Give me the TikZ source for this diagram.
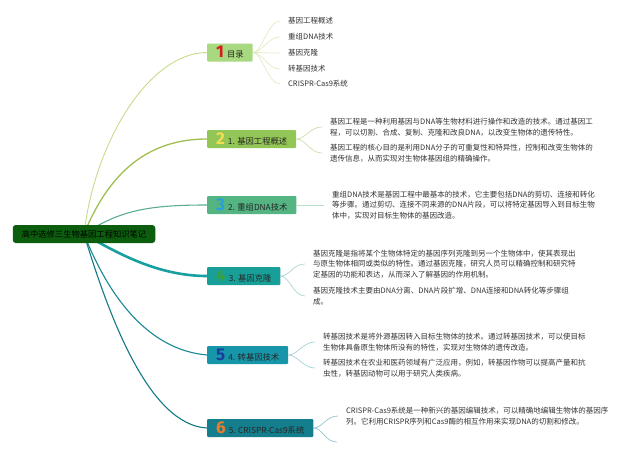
\documentclass[tikz,border=0pt]{standalone}
\usepackage{fontspec}
\setmainfont{Noto Sans CJK SC}
\newfontfamily\numfont{Fira Sans}
\usetikzlibrary{backgrounds}

\definecolor{rootgreen}{RGB}{12,94,14}
\definecolor{box1}{RGB}{168,216,128}
\definecolor{box2}{RGB}{146,198,86}
\definecolor{box3}{RGB}{84,180,130}
\definecolor{box4}{RGB}{24,160,152}
\definecolor{box5}{RGB}{22,150,168}
\definecolor{box6}{RGB}{20,126,140}
\definecolor{line1}{RGB}{196,220,140}
\definecolor{line2}{RGB}{160,190,80}
\definecolor{line3}{RGB}{90,175,140}
\definecolor{line4}{RGB}{24,160,160}
\definecolor{line5}{RGB}{24,135,150}
\definecolor{line6}{RGB}{20,120,135}
\definecolor{twig1}{RGB}{225,235,195}
\definecolor{twig2}{RGB}{205,225,170}
\definecolor{twig3}{RGB}{180,225,200}
\definecolor{twig4}{RGB}{170,215,210}
\definecolor{twig5}{RGB}{165,210,215}
\definecolor{twig6}{RGB}{150,195,205}
\definecolor{num1}{RGB}{210,30,30}
\definecolor{num2}{RGB}{245,220,80}
\definecolor{num3}{RGB}{40,160,220}
\definecolor{num4}{RGB}{60,160,60}
\definecolor{num5}{RGB}{25,60,160}
\definecolor{num6}{RGB}{235,125,40}

\newcommand{\topicnum}[2]{{\numfont\bfseries\fontsize{17}{17}\selectfont\color{#1}#2}\hspace{3pt}}

\tikzset{
    rootbox/.style={fill=rootgreen, rounded corners=3pt, text=black, minimum height=18pt,
        inner xsep=9pt, inner ysep=0pt, font=\fontsize{8.3}{10}\selectfont},
    topicbox/.style={fill=#1, anchor=west, minimum height=18pt, rounded corners=1pt,
        inner xsep=9pt, inner ysep=0pt, text=black!85, font=\fontsize{8.3}{10}\selectfont},
    leaf/.style={anchor=west, align=left, inner xsep=8pt, inner ysep=1pt,
        text=black!80, font=\fontsize{7.5}{10.7}\selectfont},
    branch/.style={draw=#1, line width=1.1pt},
    twig/.style={draw=#1, line width=0.7pt},
}

\begin{document}
\begin{tikzpicture}[x=1pt, y=-1pt]
    \useasboundingbox (0,0) rectangle (640,455);

    % root
    \node[rootbox] (root) at (84,234) {高中选修三生物基因工程知识笔记};

    % main topics
    \node[topicbox=box1] (t1) at (207,52.5) {\topicnum{num1}{1}目录};
    \node[topicbox=box2] (t2) at (207,139) {\topicnum{num2}{2}1. 基因工程概述};
    \node[topicbox=box3] (t3) at (207,205) {\topicnum{num3}{3}2. 重组DNA技术};
    \node[topicbox=box4] (t4) at (207,276) {\topicnum{num4}{4}3. 基因克隆};
    \node[topicbox=box5] (t5) at (207,355) {\topicnum{num5}{5}4. 转基因技术};
    \node[topicbox=box6] (t6) at (207,428) {\topicnum{num6}{6}5. CRISPR-Cas9系统};

    % table of contents
    \node[leaf] (toc1) at (280,21) {基因工程概述};
    \node[leaf] (toc2) at (280,37) {重组DNA技术};
    \node[leaf] (toc3) at (280,53) {基因克隆};
    \node[leaf] (toc4) at (280,69) {转基因技术};
    \node[leaf] (toc5) at (280,84) {CRISPR-Cas9系统};

    % notes
    \node[leaf] (s2a) at (322,127) {基因工程是一种利用基因与DNA等生物材料进行操作和改造的技术。通过基因工\\程，可以切割、合成、复制、克隆和改良DNA，以改变生物体的遗传特性。};
    \node[leaf] (s2b) at (322,153) {基因工程的核心目的是利用DNA分子的可重复性和特异性，控制和改变生物体的\\遗传信息，从而实现对生物体基因组的精确操作。};
    \node[leaf] (s3) at (324,205) {重组DNA技术是基因工程中最基本的技术，它主要包括DNA的剪切、连接和转化\\等步骤。通过剪切、连接不同来源的DNA片段，可以将特定基因导入到目标生物\\体中，实现对目标生物体的基因改造。};
    \node[leaf] (s4a) at (305,264) {基因克隆是指将某个生物体特定的基因序列克隆到另一个生物体中，使其表现出\\与原生物体相同或类似的特性。通过基因克隆，研究人员可以精确控制和研究特\\定基因的功能和表达，从而深入了解基因的作用机制。};
    \node[leaf] (s4b) at (305,296) {基因克隆技术主要由DNA分离、DNA片段扩增、DNA连接和DNA转化等步骤组\\成。};
    \node[leaf] (s5a) at (315,342) {转基因技术是将外源基因转入目标生物体的技术。通过转基因技术，可以使目标\\生物体具备原生物体所没有的特性，实现对生物体的遗传改造。};
    \node[leaf] (s5b) at (315,368) {转基因技术在农业和医药领域有广泛应用，例如，转基因作物可以提高产量和抗\\虫性，转基因动物可以用于研究人类疾病。};
    \node[leaf] (s6a) at (338,416) {CRISPR-Cas9系统是一种新兴的基因编辑技术，可以精确地编辑生物体的基因序\\列。它利用CRISPR序列和Cas9酶的相互作用来实现DNA的切割和修改。};
    \coordinate (s6b) at (337,442);

    \begin{scope}[on background layer]
        % root to topics
        \draw[branch=line1, line width=0.9pt] (root.center) .. controls (95,140) and (150,52.5) .. (t1.west);
        \draw[branch=line2, line width=1.3pt] (root.center) .. controls (110,170) and (150,139) .. (t2.west);
        \draw[branch=line3] (root.center) .. controls (120,210) and (150,205) .. (t3.west);
        \draw[branch=line4, line width=2.6pt] (root.center) .. controls (120,255) and (160,276) .. (t4.west);
        \draw[branch=line5] (root.center) .. controls (110,300) and (150,350) .. (t5.west);
        \draw[branch=line6] (root.center) .. controls (110,320) and (150,425) .. (t6.west);

        % topics to notes
        \foreach \s in {toc1,toc2,toc3,toc4,toc5}
            \draw[twig=twig1] (t1.east) .. controls +(9,0) and +(-12,0) .. (\s.west);
        \foreach \s in {s2a,s2b}
            \draw[twig=twig2] (t2.east) .. controls +(9,0) and +(-12,0) .. (\s.west);
        \draw[twig=twig3] (t3.east) -- (s3.west);
        \foreach \s in {s4a,s4b}
            \draw[twig=twig4] (t4.east) .. controls +(9,0) and +(-12,0) .. (\s.west);
        \foreach \s in {s5a,s5b}
            \draw[twig=twig5] (t5.east) .. controls +(9,0) and +(-12,0) .. (\s.west);
        \draw[twig=twig6] (t6.east) .. controls +(9,0) and +(-12,0) .. (s6a.west);
        \draw[twig=twig6] (t6.east) .. controls +(9,0) and +(-12,0) .. (s6b);
    \end{scope}
\end{tikzpicture}
\end{document}
